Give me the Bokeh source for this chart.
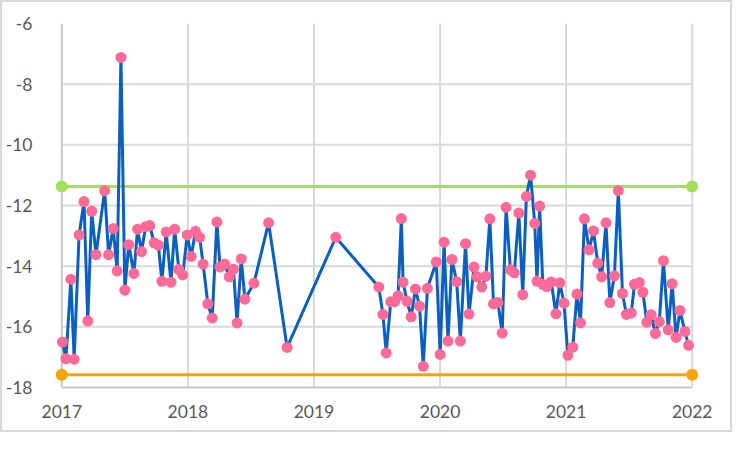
from bokeh.plotting import figure
from bokeh.models import Range1d, FixedTicker, PrintfTickFormatter
from bokeh.embed import file_html
from bokeh.resources import INLINE

years = [2017.005, 2017.033, 2017.072, 2017.098, 2017.137, 2017.176, 2017.206, 2017.237, 2017.271, 2017.340,
         2017.371, 2017.408, 2017.439, 2017.469, 2017.500, 2017.531, 2017.572, 2017.601, 2017.632, 2017.665,
         2017.698, 2017.732, 2017.766, 2017.794, 2017.828, 2017.866, 2017.895, 2017.928, 2017.959, 2017.995,
         2018.026, 2018.060, 2018.093, 2018.121, 2018.158, 2018.193, 2018.230, 2018.255, 2018.292, 2018.328,
         2018.361, 2018.390, 2018.423, 2018.452, 2018.524, 2018.640, 2018.787, 2019.173, 2019.514, 2019.547,
         2019.573, 2019.609, 2019.640, 2019.667, 2019.693, 2019.707, 2019.738, 2019.771, 2019.805, 2019.837,
         2019.867, 2019.900, 2019.970, 2020.001, 2020.032, 2020.063, 2020.094, 2020.132, 2020.161, 2020.202,
         2020.230, 2020.269, 2020.295, 2020.331, 2020.364, 2020.395, 2020.424, 2020.459, 2020.493, 2020.524,
         2020.558, 2020.589, 2020.625, 2020.656, 2020.685, 2020.718, 2020.751, 2020.769, 2020.790, 2020.815,
         2020.846, 2020.882, 2020.919, 2020.950, 2020.983, 2021.014, 2021.053, 2021.086, 2021.114, 2021.145,
         2021.182, 2021.217, 2021.251, 2021.282, 2021.316, 2021.347, 2021.383, 2021.414, 2021.447, 2021.478,
         2021.517, 2021.542, 2021.581, 2021.609, 2021.640, 2021.674, 2021.708, 2021.739, 2021.772, 2021.810,
         2021.841, 2021.872, 2021.903, 2021.942, 2021.971]

values = [-16.50, -17.05, -14.43, -17.07, -12.97, -11.87, -15.81, -12.19, -13.62, -11.51,
          -13.62, -12.76, -14.16, -7.12, -14.79, -13.29, -14.24, -12.78, -13.52, -12.70,
          -12.66, -13.23, -13.31, -14.50, -12.87, -14.53, -12.78, -14.11, -14.29, -12.97,
          -13.68, -12.85, -13.05, -13.93, -15.24, -15.71, -12.54, -14.03, -13.93, -14.35,
          -14.10, -15.87, -13.76, -15.09, -14.56, -12.57, -16.68, -13.05, -14.69, -15.59,
          -16.86, -15.17, -15.17, -14.98, -12.43, -14.53, -15.16, -15.67, -14.75, -15.32,
          -17.30, -14.73, -13.86, -16.91, -13.21, -16.47, -13.78, -14.51, -16.47, -13.26,
          -15.58, -14.03, -14.35, -14.69, -14.33, -12.44, -15.24, -15.20, -16.21, -12.06,
          -14.12, -14.22, -12.25, -14.94, -11.70, -11.00, -12.59, -14.50, -12.02, -14.60,
          -14.67, -14.52, -15.57, -14.55, -15.22, -16.94, -16.67, -14.92, -15.87, -12.44,
          -13.46, -12.84, -13.90, -14.35, -12.57, -15.20, -14.32, -11.51, -14.90, -15.59,
          -15.54, -14.60, -14.54, -14.86, -15.85, -15.60, -16.22, -15.83, -13.82, -16.10,
          -14.58, -16.35, -15.46, -16.15, -16.61]

limit_x = [2017, 2022]
upper_limit = -11.37
lower_limit = -17.58
x_ticks = [2017, 2018, 2019, 2020, 2021, 2022]
y_ticks = [-18, -16, -14, -12, -10, -8, -6]
y_grid_ticks = [-16, -14, -12, -10, -8]
x_grid_ticks = [2018, 2019, 2020, 2021, 2022]
x_min, x_max = 2017, 2022
y_min, y_max = -18, -6

# small padding so that end markers are not clipped by the frame
x_pad = 0.05
y_pad = 0.066

p = figure(width=732, height=432, output_backend="svg", toolbar_location=None,
           x_range=Range1d(x_min - x_pad, x_max + x_pad), y_range=Range1d(y_min - y_pad, y_max),
           min_border_left=51, min_border_right=36, min_border_top=21, min_border_bottom=45)
p.styles = {"border": "2px solid #d9d9d9"}
p.outline_line_color = None
p.background_fill_color = "white"
p.border_fill_color = "white"
p.grid.visible = False

grid_color = "#d9d9d9"
axis_color = "#c8c8c8"
# grid lines (bounded between the axis limits, as in the reference)
p.segment(x0=x_grid_ticks, x1=x_grid_ticks, y0=[y_min] * len(x_grid_ticks), y1=[y_max] * len(x_grid_ticks),
          line_color=grid_color, line_width=2)
p.segment(x0=[x_min] * len(y_grid_ticks), x1=[x_max] * len(y_grid_ticks), y0=y_grid_ticks, y1=y_grid_ticks,
          line_color=grid_color, line_width=2)
# axis lines
p.segment(x0=[x_min, x_min], x1=[x_min, x_max], y0=[y_min, y_min], y1=[y_max, y_min],
          line_color=axis_color, line_width=2)

p.xaxis.ticker = FixedTicker(ticks=x_ticks)
p.yaxis.ticker = FixedTicker(ticks=y_ticks)
for ax in (p.xaxis, p.yaxis):
    ax.formatter = PrintfTickFormatter(format="%d")
    ax.axis_line_color = None
    ax.major_tick_line_color = None
    ax.minor_tick_line_color = None
    ax.major_tick_out = 0
    ax.major_tick_in = 0
    ax.major_label_text_font = "Lato"
    ax.major_label_text_font_size = "17.5px"
    ax.major_label_text_color = "#595959"
p.yaxis.major_label_standoff = 23
p.xaxis.major_label_standoff = 15

green = "#a3e05a"
orange = "#f7a400"
p.line(limit_x, [upper_limit, upper_limit], line_color=green, line_width=3)
p.line(limit_x, [lower_limit, lower_limit], line_color=orange, line_width=3)
p.line(years, values, line_color="#0a5fc0", line_width=3)
p.scatter(years, values, size=11, fill_color="#ff6b96", line_color=None)
p.scatter(limit_x, [upper_limit, upper_limit], size=12, fill_color=green, line_color=None)
p.scatter(limit_x, [lower_limit, lower_limit], size=12, fill_color=orange, line_color=None)

open("out.html", "w").write(file_html(p, INLINE))
